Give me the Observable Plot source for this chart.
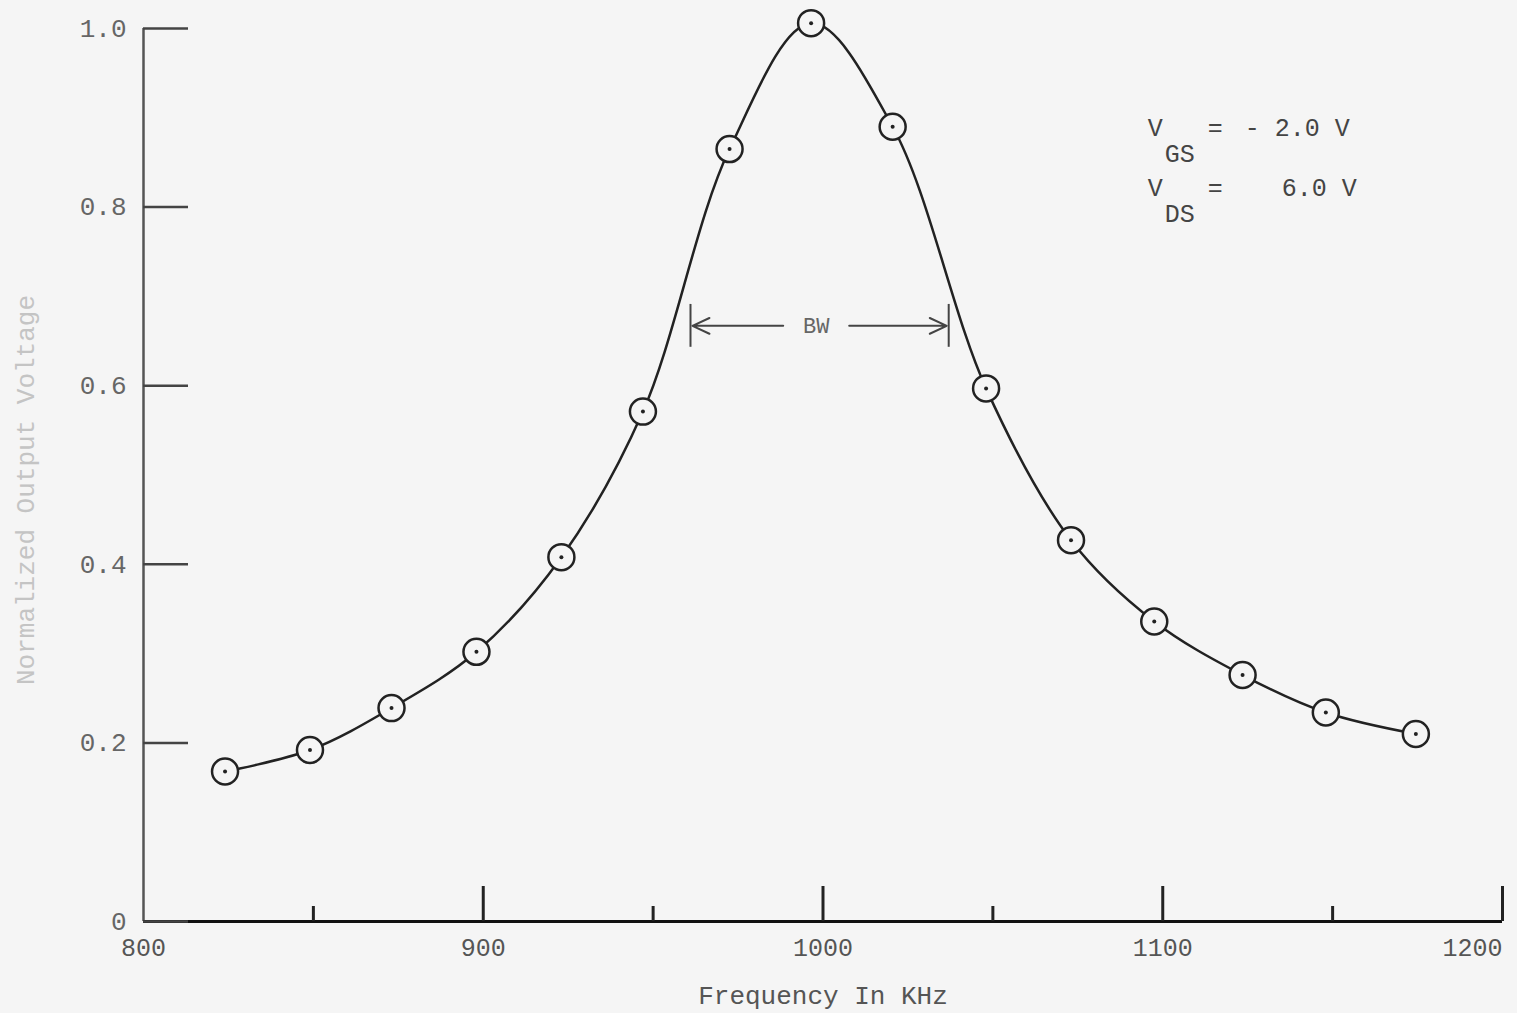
<!DOCTYPE html>
<html><head><meta charset="utf-8">
<script src="https://cdn.jsdelivr.net/npm/d3@7"></script>
<script src="https://cdn.jsdelivr.net/npm/@observablehq/plot@0.6"></script>
<style>
html,body{margin:0;padding:0;background:#f5f5f5;}
#chart svg{display:block;}
</style></head><body><div id="chart"></div>
<script>
// Measured response (frequency in kHz, normalized output voltage)
const frequencyKHz = [824, 849, 873, 898, 923, 947, 972.5, 996.5, 1020.5, 1048, 1073, 1097.5, 1123.5, 1148, 1174.5];
const outputVoltage = [0.168, 0.192, 0.239, 0.302, 0.408, 0.571, 0.865, 1.006, 0.890, 0.597, 0.427, 0.336, 0.276, 0.234, 0.210];
const xMajorTicks = [900, 1000, 1100, 1200];
const xMinorTicks = [850, 950, 1050, 1150];
const xTickLabels = [800, 900, 1000, 1100];
const xLastTickLabel = [1200];
const yTicks = [0, 0.2, 0.4, 0.6, 0.8, 1.0];
const bwLow = 961, bwHigh = 1037, bwCenter = 998, bwLevel = 0.667, bwBar = 0.024;
const vLabelX = 1100, vLabelY = 0.88;
const vgsValue = "- 2.0 V", vdsValue = "6.0 V";
const xLabel = "Frequency In KHz";
const yLabel = "Normalized Output Voltage";

const points = frequencyKHz.map((f, i) => ({f, v: outputVoltage[i]}));
const mono = "'Liberation Mono', 'DejaVu Sans Mono', monospace";
const ink = "#222";

const chart = Plot.plot({
  width: 1517, height: 1013,
  marginLeft: 143, marginRight: 15, marginTop: 28, marginBottom: 92,
  x: {domain: [800, 1200]},
  y: {domain: [0, 1]},
  style: {background: "transparent", fontFamily: mono, color: "#555"},
  marks: [
    Plot.ruleX([800], {stroke: "#555", strokeWidth: 2.5}),
    Plot.ruleY([0], {stroke: "#111", strokeWidth: 3}),
    Plot.axisY(yTicks, {tickSize: -45, tickPadding: 62, stroke: "#444", strokeWidth: 2.5, fill: "#666",
      fontSize: 26, fontFamily: mono, label: null, tickFormat: d => d === 0 ? "0" : d.toFixed(1)}),
    Plot.axisX(xMajorTicks, {tickSize: -35, fill: "none", stroke: ink, strokeWidth: 3, label: null}),
    Plot.axisX(xMinorTicks, {tickSize: -15, fill: "none", stroke: ink, strokeWidth: 3, label: null}),
    Plot.axisX(xTickLabels, {tickSize: 0, tickPadding: 17, fill: "#555", fontSize: 25, fontFamily: mono,
      label: null, tickFormat: d => `${d}`}),
    Plot.axisX(xLastTickLabel, {tickSize: 0, tickPadding: 17, fill: "#555", fontSize: 25, fontFamily: mono,
      textAnchor: "end", label: null, tickFormat: d => `${d}`}),
    Plot.text([xLabel], {frameAnchor: "bottom", dy: 82, lineAnchor: "bottom", fontSize: 26, fill: "#555", fontFamily: mono}),
    Plot.text([yLabel], {frameAnchor: "left", dx: -118, dy: 15, rotate: -90, textAnchor: "middle", fontSize: 26, fill: "#c4c4c4", fontFamily: mono}),
    // Bandwidth annotation
    Plot.ruleX([bwLow, bwHigh], {y1: bwLevel - bwBar, y2: bwLevel + bwBar, stroke: "#444", strokeWidth: 2}),
    Plot.arrow([bwLow, bwHigh], {x1: () => bwCenter, y1: () => bwLevel, x2: d => d, y2: () => bwLevel,
      insetStart: 33, insetEnd: 2, headLength: 14, headAngle: 50, stroke: "#444", strokeWidth: 2}),
    Plot.text(["BW"], {x: () => bwCenter, y: () => bwLevel, fontSize: 22, fill: "#666", fontFamily: mono}),
    // Bias conditions
    Plot.text(["V"], {x: () => vLabelX, y: () => vLabelY, dx: -15, textAnchor: "start", lineAnchor: "bottom", fontSize: 25, fill: "#444"}),
    Plot.text(["GS"], {x: () => vLabelX, y: () => vLabelY, dx: 2, dy: 26, textAnchor: "start", lineAnchor: "bottom", fontSize: 25, fill: "#444"}),
    Plot.text(["="], {x: () => vLabelX, y: () => vLabelY, dx: 45, textAnchor: "start", lineAnchor: "bottom", fontSize: 25, fill: "#444"}),
    Plot.text([vgsValue], {x: () => vLabelX, y: () => vLabelY, dx: 82, textAnchor: "start", lineAnchor: "bottom", fontSize: 25, fill: "#444"}),
    Plot.text(["V"], {x: () => vLabelX, y: () => vLabelY, dx: -15, dy: 60, textAnchor: "start", lineAnchor: "bottom", fontSize: 25, fill: "#444"}),
    Plot.text(["DS"], {x: () => vLabelX, y: () => vLabelY, dx: 2, dy: 86, textAnchor: "start", lineAnchor: "bottom", fontSize: 25, fill: "#444"}),
    Plot.text(["="], {x: () => vLabelX, y: () => vLabelY, dx: 45, dy: 60, textAnchor: "start", lineAnchor: "bottom", fontSize: 25, fill: "#444"}),
    Plot.text([vdsValue], {x: () => vLabelX, y: () => vLabelY, dx: 119, dy: 60, textAnchor: "start", lineAnchor: "bottom", fontSize: 25, fill: "#444"}),
    // Response curve
    Plot.line(points, {x: "f", y: "v", curve: "catmull-rom", stroke: ink, strokeWidth: 2.5}),
    Plot.dot(points, {x: "f", y: "v", r: 13, stroke: ink, strokeWidth: 2.5, fill: "#f5f5f5"}),
    Plot.dot(points, {x: "f", y: "v", r: 2, fill: ink})
  ]
});
document.getElementById("chart").append(chart);
</script></body></html>
